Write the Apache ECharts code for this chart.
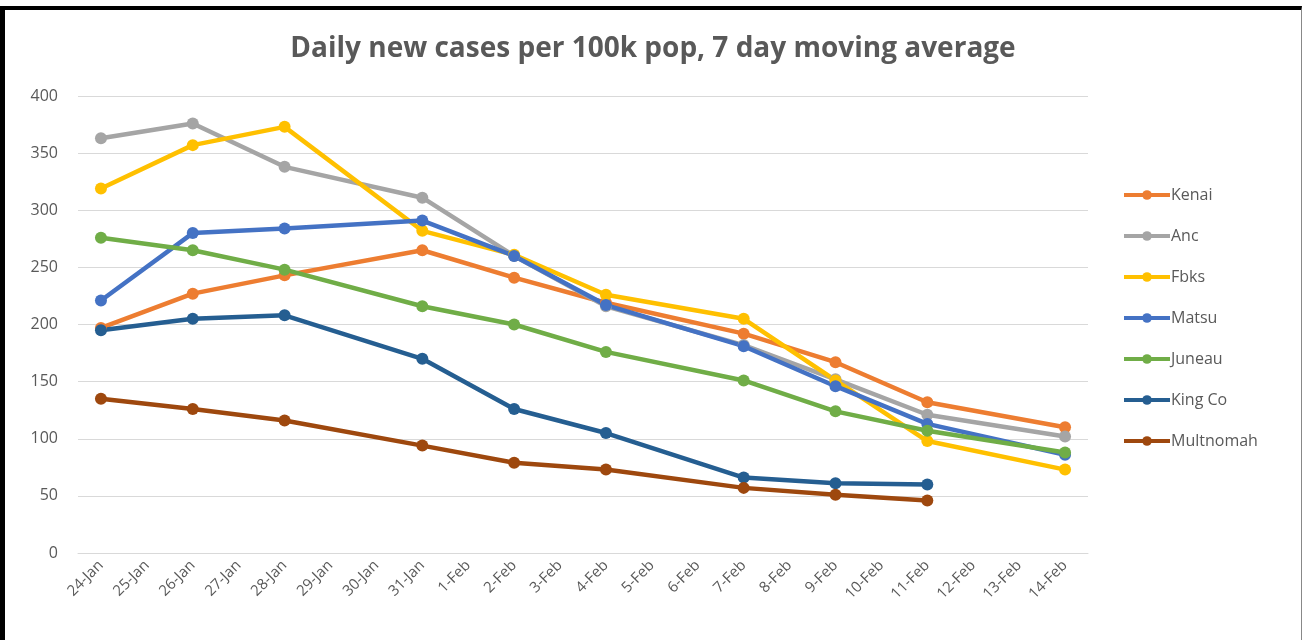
<!DOCTYPE html>
<html>
<head>
<meta charset="utf-8">
<script src="https://cdn.jsdelivr.net/npm/echarts@6/dist/echarts.min.js"></script>
<style>
html, body { margin: 0; padding: 0; background: #fff; }
#frame {
  position: absolute; left: 0; top: 6px; width: 1296px; height: 631px;
  border-top: 4px solid #000; border-left: 5px solid #000;
  border-right: 1px solid #888; border-bottom: 1px solid #888;
}
#chart { width: 1296px; height: 631px; }
</style>
</head>
<body>
<div id="frame"><div id="chart"></div></div>
<script>
// categories on the x axis (every day)
const days = ['24-Jan', '25-Jan', '26-Jan', '27-Jan', '28-Jan', '29-Jan', '30-Jan', '31-Jan',
  '1-Feb', '2-Feb', '3-Feb', '4-Feb', '5-Feb', '6-Feb', '7-Feb', '8-Feb', '9-Feb',
  '10-Feb', '11-Feb', '12-Feb', '13-Feb', '14-Feb']
// dates that have a reading
const obsDates = ['24-Jan', '26-Jan', '28-Jan', '31-Jan', '2-Feb', '4-Feb', '7-Feb', '9-Feb', '11-Feb', '14-Feb']

const kenai = [197, 227, 243, 265, 241, 219, 192, 167, 132, 110]
const anc = [363, 376, 338, 311, 260, 216, 182, 152, 121, 102]
const fbks = [319, 357, 373, 282, 261, 226, 205, 151, 98, 73]
const matsu = [221, 280, 284, 291, 260, 217, 181, 146, 113, 86]
const juneau = [276, 265, 248, 216, 200, 176, 151, 124, 107, 88]
const kingCo = [195, 205, 208, 170, 126, 105, 66, 61, 60]
const multnomah = [135, 126, 116, 94, 79, 73, 57, 51, 46]

const yTicks = [0, 50, 100, 150, 200, 250, 300, 350, 400]

const seriesList = [
  { name: 'Kenai', values: kenai, color: '#ED7D31' },
  { name: 'Anc', values: anc, color: '#A5A5A5' },
  { name: 'Fbks', values: fbks, color: '#FFC000' },
  { name: 'Matsu', values: matsu, color: '#4472C4' },
  { name: 'Juneau', values: juneau, color: '#70AD47' },
  { name: 'King Co', values: kingCo, color: '#255E91' },
  { name: 'Multnomah', values: multnomah, color: '#9E480E' }
]

const chart = echarts.init(document.getElementById('chart'))
const font = 'Open Sans'

const option = {
  animation: false,
  title: {
    text: 'Daily new cases per 100k pop, 7 day moving average',
    left: 'center',
    top: 20,
    textStyle: { fontFamily: font, fontSize: 28, fontWeight: 'bold', color: '#595959' }
  },
  legend: {
    orient: 'vertical',
    left: 1112,
    top: 172,
    itemGap: 25,
    itemWidth: 46,
    itemHeight: 12,
    lineStyle: { width: 4 },
    textStyle: { fontFamily: font, fontSize: 16, color: '#595959', padding: [0, 0, 0, -4] },
    data: seriesList.map(s => s.name)
  },
  grid: { left: 73, right: 213, top: 86, bottom: 88 },
  xAxis: {
    type: 'category',
    data: days,
    boundaryGap: true,
    axisLine: { lineStyle: { color: '#d9d9d9', width: 1 } },
    axisTick: { show: false },
    axisLabel: { interval: 0, rotate: 45, color: '#595959', fontFamily: font, fontSize: 15, margin: 10 }
  },
  yAxis: {
    type: 'value',
    min: yTicks[0],
    max: yTicks[yTicks.length - 1],
    interval: 50,
    axisLine: { show: false },
    axisTick: { show: false },
    axisLabel: { color: '#595959', fontFamily: font, fontSize: 16, margin: 20 },
    splitLine: { lineStyle: { color: '#d9d9d9', width: 1 } }
  },
  series: seriesList.map(s => ({
    name: s.name,
    type: 'line',
    data: s.values.map((v, i) => [obsDates[i], v]),
    symbol: 'circle',
    symbolSize: 12,
    lineStyle: { width: 4.5, color: s.color },
    itemStyle: { color: s.color }
  }))
}
chart.setOption(option)
</script>
</body>
</html>
